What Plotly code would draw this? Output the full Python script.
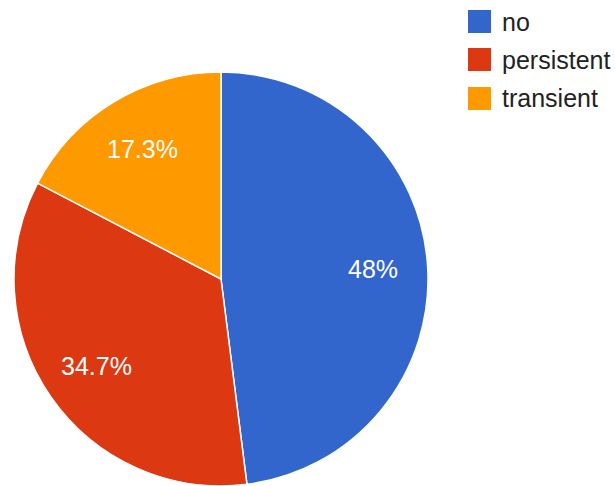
import math
import plotly.graph_objects as go

# Response counts per category
labels = ["no", "persistent", "transient"]
counts = [36, 26, 13]
colors = ["#3366cc", "#dc3912", "#ff9900"]

W, H = 615, 486
CX, CY, R = 221, 279, 207  # pie centre / radius in pixels (from top-left)


def fmt_pct(v):
    s = f"{v * 100:.3g}"
    return s + "%"


fig = go.Figure()
fig.add_trace(go.Pie(
    labels=labels,
    values=counts,
    marker=dict(colors=colors, line=dict(color="white", width=1.5)),
    sort=False,
    direction="clockwise",
    rotation=0,
    textinfo="none",
    hoverinfo="label+percent",
    showlegend=False,
    domain=dict(x=[(CX - R) / W, (CX + R) / W], y=[(H - CY - R) / H, (H - CY + R) / H]),
))

# Percentage labels placed along each slice's mid-angle
total = sum(counts)
acc = 0.0
annotations = []
for c in counts:
    frac = c / total
    mid = (acc + frac / 2) * 2 * math.pi
    acc += frac
    rr = 0.735 * R
    px = CX + rr * math.sin(mid)
    py = CY - rr * math.cos(mid)
    annotations.append(dict(
        x=px / W, y=1 - py / H, xref="paper", yref="paper",
        text=fmt_pct(frac), showarrow=False,
        font=dict(family="Liberation Sans, Arial, sans-serif", size=25, color="#ffffff"),
        xanchor="center", yanchor="middle",
    ))

# Legend: coloured squares with labels at top right
shapes = []
sq = 23
x0 = 468
row_y = [10, 48, 87]
for lab, col, y0 in zip(labels, colors, row_y):
    shapes.append(dict(
        type="rect", xref="paper", yref="paper",
        x0=x0 / W, x1=(x0 + sq) / W, y0=1 - (y0 + sq) / H, y1=1 - y0 / H,
        fillcolor=col, line=dict(width=0),
    ))
    annotations.append(dict(
        x=500 / W, y=1 - (y0 + sq / 2) / H, xref="paper", yref="paper",
        text=lab, showarrow=False, xanchor="left", yanchor="middle",
        font=dict(family="Liberation Sans, Arial, sans-serif", size=25, color="#222222"),
    ))

fig.update_layout(
    width=W, height=H,
    margin=dict(l=0, r=0, t=0, b=0),
    paper_bgcolor="white",
    plot_bgcolor="white",
    annotations=annotations,
    shapes=shapes,
)

fig.write_html("out.html")
